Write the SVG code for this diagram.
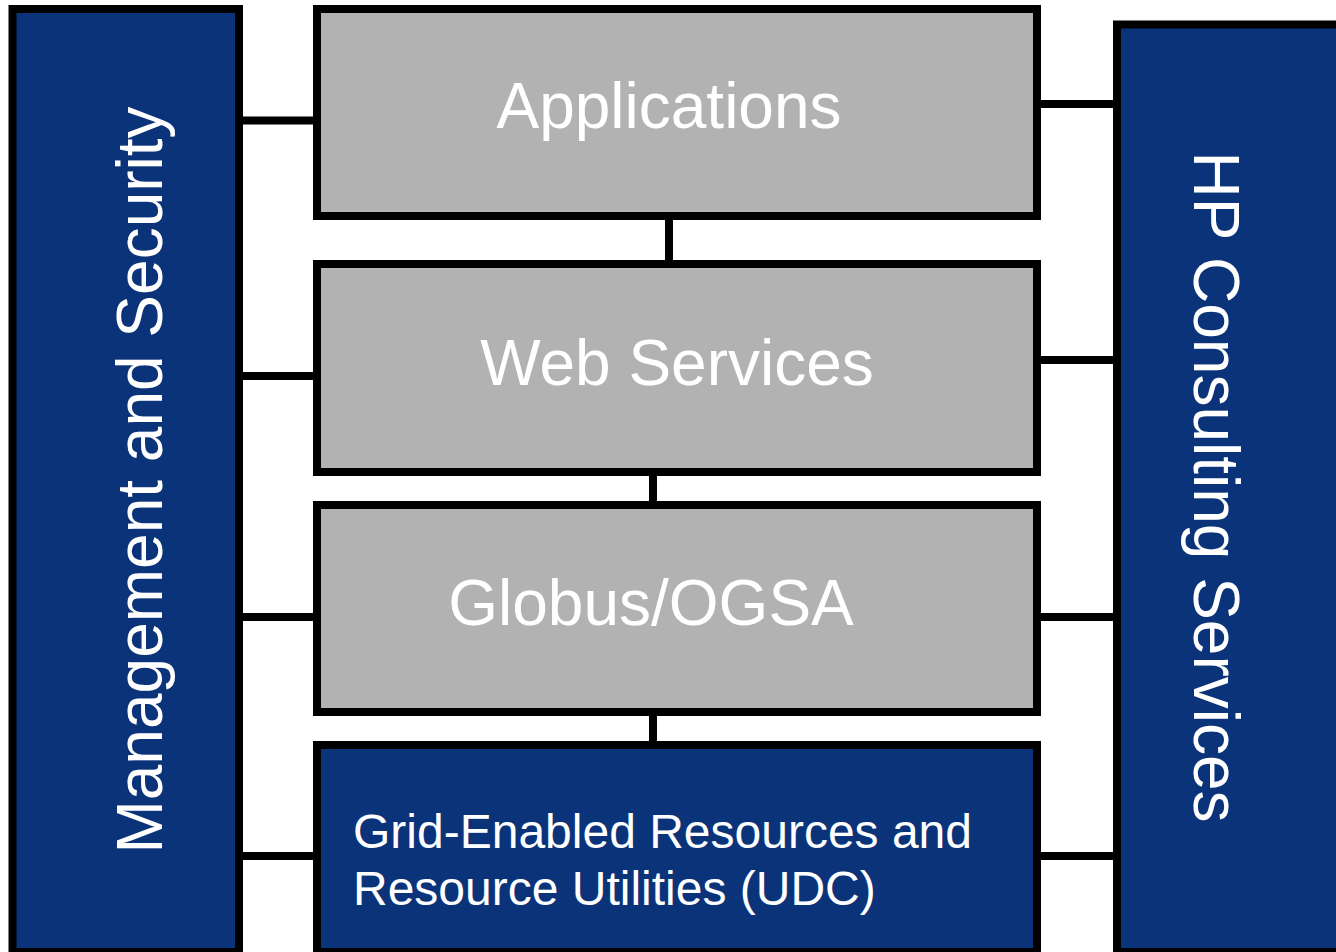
<svg xmlns="http://www.w3.org/2000/svg" width="1336" height="952" viewBox="0 0 1336 952">
<style>
.blue{fill:#0b337a;stroke:#000;stroke-width:8}
.gray{fill:#b2b2b2;stroke:#000;stroke-width:8}
.lbl{font-family:"Liberation Sans",Arial,sans-serif;fill:#fff}
.big{font-size:64px}
.small{font-size:48px}
#connectors line{stroke:#000;stroke-width:8}
</style>
<rect width="1336" height="952" fill="#fff"/>
<g id="connectors">
<line x1="239" y1="120.5" x2="317" y2="120.5"/>
<line x1="239" y1="376" x2="317" y2="376"/>
<line x1="239" y1="617" x2="317" y2="617"/>
<line x1="239" y1="856" x2="317" y2="856"/>
<line x1="1037" y1="104" x2="1117" y2="104"/>
<line x1="1037" y1="360" x2="1117" y2="360"/>
<line x1="1037" y1="617" x2="1117" y2="617"/>
<line x1="1037" y1="856" x2="1117" y2="856"/>
<line x1="669" y1="216" x2="669" y2="264"/>
<line x1="653" y1="472" x2="653" y2="505"/>
<line x1="653" y1="712" x2="653" y2="745"/>
</g>
<g id="mgmt">
<rect class="blue" x="12.5" y="9" width="226.5" height="943"/>
<text class="lbl big" transform="translate(162,480) rotate(-90)" text-anchor="middle">Management and Security</text>
</g>
<g id="hp">
<rect class="blue" x="1117" y="24.5" width="240" height="927.5"/>
<text class="lbl big" transform="translate(1194,487) rotate(90)" text-anchor="middle">HP Consulting Services</text>
</g>
<g id="applications">
<rect class="gray" x="317" y="9" width="720" height="207"/>
<text class="lbl big" x="669" y="128" text-anchor="middle">Applications</text>
</g>
<g id="webservices">
<rect class="gray" x="317" y="264" width="720" height="208"/>
<text class="lbl big" x="677" y="385" text-anchor="middle">Web Services</text>
</g>
<g id="globus">
<rect class="gray" x="317" y="505" width="720" height="207"/>
<text class="lbl big" x="651" y="625" text-anchor="middle">Globus/OGSA</text>
</g>
<g id="grid">
<rect class="blue" x="317" y="745" width="720" height="207"/>
<text class="lbl small" x="353" y="848">Grid-Enabled Resources and</text>
<text class="lbl small" x="353" y="905">Resource Utilities (UDC)</text>
</g>
</svg>
